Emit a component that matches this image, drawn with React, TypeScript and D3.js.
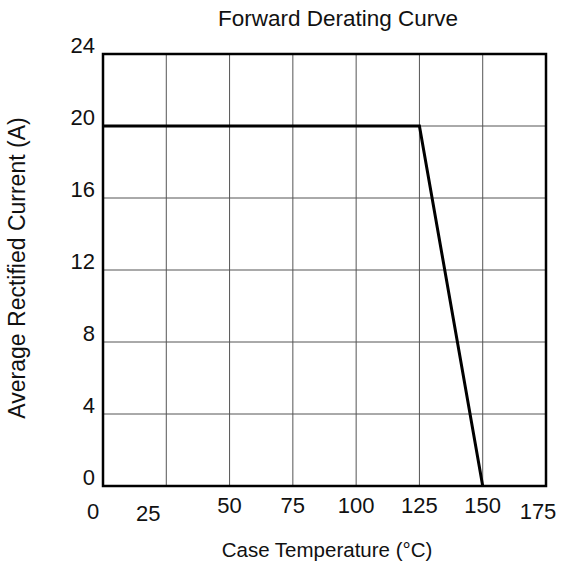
import React from 'react';
import * as d3 from 'd3';

// derating curve: case temperature (°C) vs average rectified current (A)
const tempC = [0, 125, 150];
const currentA = [20, 20, 0];

const xTicks = [0, 25, 50, 75, 100, 125, 150, 175];
const yTicks = [0, 4, 8, 12, 16, 20, 24];

const title = 'Forward Derating Curve';
const xTitle = 'Case Temperature (°C)';
const yTitle = 'Average Rectified Current (A)';

const W = 563;
const H = 563;
const m = { left: 103, right: 546, top: 54, bottom: 486 };

// the x labels in the source sit a bit off their grid lines
const xLabelNudge: Record<number, [number, number]> = {
  0: [-10, 519],
  25: [-18, 521],
  175: [-8, 519],
};

const App = () => {
  const x = d3.scaleLinear().domain([0, 175]).range([m.left, m.right]);
  const y = d3.scaleLinear().domain([0, 24]).range([m.bottom, m.top]);

  const line = d3
    .line<number>()
    .x((d) => x(d))
    .y((d, i) => y(currentA[i]));

  const font = 'Liberation Sans, Arial, Helvetica, sans-serif';

  return (
    <svg
      width={W}
      height={H}
      style={{ position: 'absolute', left: 0, top: 0, background: '#fff' }}
      fontFamily={font}
    >
      {/* grid */}
      {xTicks.slice(1, -1).map((t) => (
        <line key={'gx' + t} x1={x(t)} x2={x(t)} y1={y(0)} y2={y(24)} stroke="#555" strokeWidth={1} />
      ))}
      {yTicks.slice(1, -1).map((t) => (
        <line key={'gy' + t} x1={x(0)} x2={x(175)} y1={y(t)} y2={y(t)} stroke="#555" strokeWidth={1} />
      ))}

      {/* frame */}
      <rect
        x={x(0)}
        y={y(24)}
        width={x(175) - x(0)}
        height={y(0) - y(24)}
        fill="none"
        stroke="#000"
        strokeWidth={2.5}
      />

      {/* curve */}
      <path d={line(tempC) || ''} fill="none" stroke="#000" strokeWidth={3} />

      {/* y tick labels */}
      {yTicks.map((t) => (
        <text key={'yl' + t} x={95} y={y(t) - 1} textAnchor="end" fontSize={22} fill="#111">
          {t}
        </text>
      ))}

      {/* x tick labels */}
      {xTicks.map((t) => {
        const nudge = xLabelNudge[t];
        const cx = nudge ? x(t) + nudge[0] : x(t);
        const by = nudge ? nudge[1] : 513;
        return (
          <text key={'xl' + t} x={cx} y={by} textAnchor="middle" fontSize={22} fill="#111">
            {t}
          </text>
        );
      })}

      <text x={338} y={26} textAnchor="middle" fontSize={22.5} fill="#111">
        {title}
      </text>
      <text x={327} y={557} textAnchor="middle" fontSize={20.5} fill="#111">
        {xTitle}
      </text>
      <text
        transform={`translate(25,268) rotate(-90)`}
        textAnchor="middle"
        fontSize={23}
        fill="#111"
      >
        {yTitle}
      </text>
    </svg>
  );
};

export default App;
